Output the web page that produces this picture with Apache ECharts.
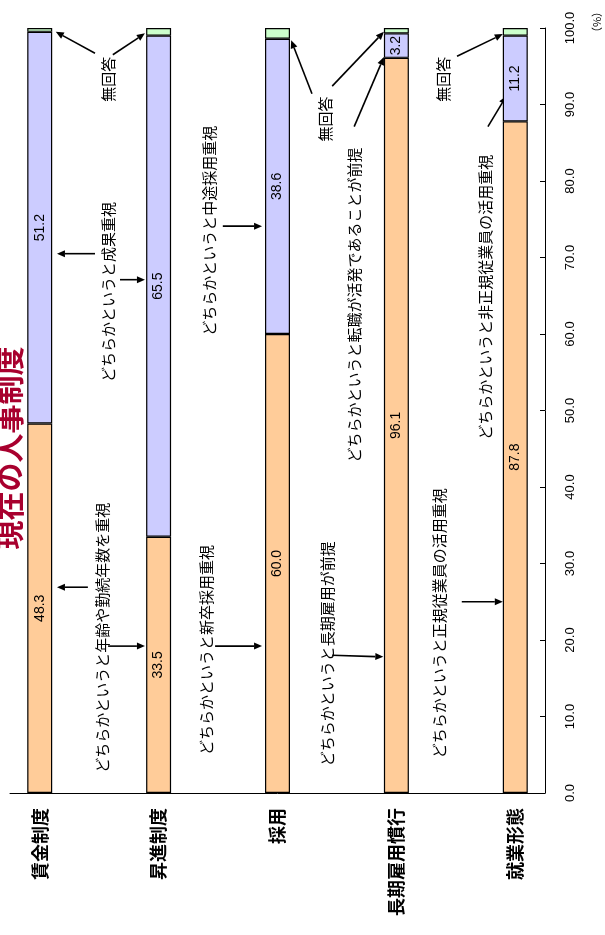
<!DOCTYPE html>
<html>
<head>
<meta charset="utf-8">
<script src="https://cdn.jsdelivr.net/npm/echarts@6/dist/echarts.min.js"></script>
<style>
    html, body { margin: 0; padding: 0; background: #fff; }
    #main { width: 605px; height: 935px; }
</style>
</head>
<body>
<div id="main"></div>
<script>
// data
const categories = ['賃金制度', '昇進制度', '採用', '長期雇用慣行', '就業形態']
const firstChoice = [48.3, 33.5, 60.0, 96.1, 87.8]   // 年功・新卒・長期雇用・正規 寄り
const secondChoice = [51.2, 65.5, 38.6, 3.2, 11.2]   // 成果・中途・転職・非正規 寄り
const noAnswer = [0.5, 1.0, 1.4, 0.7, 1.0]
const valueTicks = [0, 100, 10]   // min, max, interval

// annotations: text at [category slot, value], arrows from -> to
const notes = [
    { text: 'どちらかというと年齢や勤続年数を重視', at: [1.05, 20.3] },
    { text: 'どちらかというと成果重視', at: [1.15, 65.5] },
    { text: '無回答', at: [1.15, 93.3] },
    { text: 'どちらかというと新卒採用重視', at: [2.81, 18.7] },
    { text: 'どちらかというと中途採用重視', at: [2.86, 73.5] },
    { text: '無回答', at: [4.80, 88.1] },
    { text: 'どちらかというと長期雇用が前提', at: [4.83, 18.2] },
    { text: 'どちらかというと転職が活発であることが前提', at: [5.30, 63.8] },
    { text: 'どちらかというと正規従業員の活用重視', at: [6.73, 22.2] },
    { text: 'どちらかというと非正規従業員の活用重視', at: [7.49, 64.8] },
    { text: '無回答', at: [6.79, 93.3] },
]
const arrows = [
    { from: [0.81, 26.9], to: [0.29, 26.9] },
    { from: [1.15, 19.2], to: [1.77, 19.2] },
    { from: [0.93, 70.5], to: [0.29, 70.5] },
    { from: [1.35, 67.1], to: [1.77, 67.1] },
    { from: [0.93, 96.7], to: [0.27, 99.5] },
    { from: [1.23, 96.5], to: [1.77, 99.3] },
    { from: [2.95, 19.2], to: [3.74, 19.2] },
    { from: [3.08, 74.1], to: [3.74, 74.1] },
    { from: [4.58, 91.4], to: [4.23, 98.4] },
    { from: [4.92, 92.4], to: [5.79, 99.5] },
    { from: [5.29, 87.1], to: [5.79, 96.2] },
    { from: [4.92, 18.0], to: [5.78, 17.8] },
    { from: [7.10, 25.0], to: [7.79, 25.0] },
    { from: [7.54, 87.1], to: [7.85, 91.1] },
    { from: [7.02, 96.3], to: [7.79, 99.2] },
]

// blank slot between each category (the notes sit there)
const slot = arr => arr.flatMap((v, i) => i ? [null, v] : [v])
const axisCats = slot(categories).map(c => c === null ? '' : c)

const jp = '"Noto Sans CJK JP", sans-serif'
const barLabel = {
    show: true,
    position: 'inside',
    rotate: 90,
    color: '#000',
    fontSize: 14,
    fontFamily: '"Liberation Sans", Arial, sans-serif',
    formatter: p => p.value.toFixed(1)
}

const option = {
    animation: false,
    backgroundColor: '#fff',
    grid: {
        left: 10,
        right: 60,
        top: 28,
        bottom: 142,
        containLabel: false,
        outerBoundsMode: 'none'
    },
    xAxis: {
        type: 'category',
        data: axisCats,
        axisLine: { lineStyle: { color: '#000', width: 1 } },
        axisTick: { inside: true, length: 6, interval: 0, lineStyle: { color: '#000' } },
        axisLabel: {
            interval: 0,
            rotate: 90,
            margin: 15,
            color: '#000',
            fontSize: 18,
            fontWeight: 'bold',
            fontFamily: jp
        },
        splitLine: { show: false }
    },
    yAxis: {
        type: 'value',
        position: 'right',
        min: valueTicks[0],
        max: valueTicks[1],
        interval: valueTicks[2],
        axisLine: { show: true, lineStyle: { color: '#000', width: 1 } },
        axisTick: { show: true, inside: true, length: 5, lineStyle: { color: '#000' } },
        axisLabel: {
            rotate: 90,
            margin: 19,
            color: '#000',
            fontSize: 13,
            fontFamily: '"Liberation Sans", Arial, sans-serif',
            formatter: v => v.toFixed(1)
        },
        splitLine: { show: false }
    },
    series: [
        {
            name: 'first',
            type: 'bar',
            stack: 'total',
            barWidth: '42%',
            itemStyle: { color: '#ffcc99', borderColor: '#000', borderWidth: 1.2 },
            label: barLabel,
            data: slot(firstChoice)
        },
        {
            name: 'second',
            type: 'bar',
            stack: 'total',
            barWidth: '42%',
            itemStyle: { color: '#ccccff', borderColor: '#000', borderWidth: 1.2 },
            label: barLabel,
            data: slot(secondChoice)
        },
        {
            name: '無回答',
            type: 'bar',
            stack: 'total',
            barWidth: '42%',
            itemStyle: { color: '#ccffcc', borderColor: '#000', borderWidth: 1.2 },
            data: slot(noAnswer)
        }
    ]
}

const chart = echarts.init(document.getElementById('main'))
chart.setOption(option)

// category slot may be fractional: interpolate between slot 0 and 1
function toPx(c, v) {
    const p0 = chart.convertToPixel({ gridIndex: 0 }, [0, v])
    const p1 = chart.convertToPixel({ gridIndex: 0 }, [1, v])
    return [p0[0] + (p1[0] - p0[0]) * c, p0[1]]
}

const graphics = []

graphics.push({
    type: 'text',
    x: 10, y: 448,
    rotation: Math.PI / 2,
    style: {
        text: '現在の人事制度',
        fill: '#a8002e',
        font: 'bold 29px ' + jp,
        textAlign: 'center',
        textVerticalAlign: 'middle'
    }
})
graphics.push({
    type: 'text',
    x: 597, y: 22,
    rotation: Math.PI / 2,
    style: {
        text: '（%）',
        fill: '#000',
        font: '11px ' + jp,
        textAlign: 'center',
        textVerticalAlign: 'middle'
    }
})

notes.forEach(n => {
    const p = toPx(n.at[0], n.at[1])
    graphics.push({
        type: 'text',
        x: p[0], y: p[1],
        rotation: Math.PI / 2,
        style: {
            text: n.text,
            fill: '#000',
            font: '15px ' + jp,
            textAlign: 'center',
            textVerticalAlign: 'middle'
        }
    })
})

arrows.forEach(a => {
    const s = toPx(a.from[0], a.from[1])
    const e = toPx(a.to[0], a.to[1])
    const dx = e[0] - s[0], dy = e[1] - s[1]
    const len = Math.sqrt(dx * dx + dy * dy)
    const ux = dx / len, uy = dy / len
    const hl = 8, hw = 3.5
    const bx = e[0] - ux * hl, by = e[1] - uy * hl
    graphics.push({
        type: 'line',
        shape: { x1: s[0], y1: s[1], x2: bx, y2: by },
        style: { stroke: '#000', lineWidth: 1.6 }
    })
    graphics.push({
        type: 'polygon',
        shape: { points: [e, [bx - uy * hw, by + ux * hw], [bx + uy * hw, by - ux * hw]] },
        style: { fill: '#000' }
    })
})

chart.setOption({ graphic: graphics })
</script>
</body>
</html>
